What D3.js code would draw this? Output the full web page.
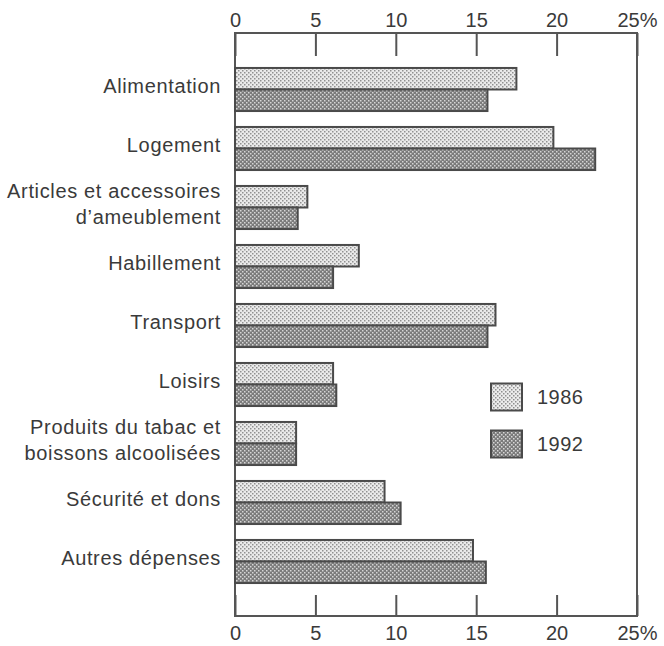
<!DOCTYPE html>
<html>
<head>
<meta charset="utf-8">
<script src="https://cdn.jsdelivr.net/npm/d3@7"></script>
<style>
  html, body { margin: 0; padding: 0; background: #ffffff; }
  svg text { font-family: "Liberation Sans", Arial, Helvetica, sans-serif; fill: #3a3a3a; }
</style>
</head>
<body>
<svg id="chart" width="664" height="646"></svg>
<script>
const categories = [
  "Alimentation",
  "Logement",
  "Articles et accessoires\nd’ameublement",
  "Habillement",
  "Transport",
  "Loisirs",
  "Produits du tabac et\nboissons alcoolisées",
  "Sécurité et dons",
  "Autres dépenses"
];
const seriesNames = ["1986", "1992"];
const values1986 = [17.5, 19.8, 4.5, 7.7, 16.2, 6.1, 3.8, 9.3, 14.8];
const values1992 = [15.7, 22.4, 3.9, 6.1, 15.7, 6.3, 3.8, 10.3, 15.6];
const tickValues = [0, 5, 10, 15, 20, 25];
const tickLabels = ["0", "5", "10", "15", "20", "25%"];

const svg = d3.select("#chart");
const frame = { left: 235, right: 637, top: 33, bottom: 616 };

const x = d3.scaleLinear().domain([0, 25]).range([frame.left, frame.right]);
const y = d3.scaleBand().domain(categories).range([60, 591]).paddingInner(0.27).paddingOuter(0.135);
const ySub = d3.scaleBand().domain(seriesNames).range([0, y.bandwidth()]);

// patterns
const defs = svg.append("defs");
function makePattern(id, bg, dot) {
  const p = defs.append("pattern").attr("id", id).attr("patternUnits", "userSpaceOnUse")
    .attr("width", 4).attr("height", 4);
  p.append("rect").attr("width", 4).attr("height", 4).attr("fill", bg);
  p.append("rect").attr("x", 0).attr("y", 0).attr("width", 1.5).attr("height", 1.5).attr("fill", dot);
  p.append("rect").attr("x", 2).attr("y", 2).attr("width", 1.5).attr("height", 1.5).attr("fill", dot);
}
makePattern("p1986", "#ebebeb", "#8e8e8e");
makePattern("p1992", "#7a7a7a", "#d8d8d8");
const fills = { "1986": "url(#p1986)", "1992": "url(#p1992)" };

// frame
svg.append("rect")
  .attr("x", frame.left).attr("y", frame.top)
  .attr("width", frame.right - frame.left).attr("height", frame.bottom - frame.top)
  .attr("fill", "none").attr("stroke", "#555").attr("stroke-width", 2);

// axes
const fmt = (d) => tickLabels[tickValues.indexOf(d)];
const topAxis = d3.axisTop(x).tickValues(tickValues).tickFormat(fmt).tickSize(-23).tickPadding(6);
const botAxis = d3.axisBottom(x).tickValues(tickValues).tickFormat(fmt).tickSize(-21).tickPadding(10);

function styleAxis(g) {
  g.select(".domain").remove();
  g.selectAll(".tick line").attr("stroke", "#555").attr("stroke-width", 2);
  g.selectAll(".tick text").attr("font-size", 20).attr("fill", "#3a3a3a")
    .attr("font-family", "'Liberation Sans', Arial, Helvetica, sans-serif");
}
svg.append("g").attr("transform", `translate(0,${frame.top})`).call(topAxis).call(styleAxis);
svg.append("g").attr("transform", `translate(0,${frame.bottom})`).call(botAxis).call(styleAxis);

// bars
const rows = categories.map((c, i) => ({ cat: c, vals: [
  { s: "1986", v: values1986[i] }, { s: "1992", v: values1992[i] }
]}));

const groups = svg.append("g").selectAll("g").data(rows).join("g")
  .attr("transform", d => `translate(0,${y(d.cat)})`);

groups.selectAll("rect").data(d => d.vals).join("rect")
  .attr("x", x(0))
  .attr("y", d => ySub(d.s))
  .attr("width", d => x(d.v) - x(0))
  .attr("height", ySub.bandwidth())
  .attr("fill", d => fills[d.s])
  .attr("stroke", "#4a4a4a")
  .attr("stroke-width", 2);

// category labels
const labels = svg.append("g").selectAll("text").data(categories).join("text")
  .attr("text-anchor", "end")
  .attr("font-size", 20)
  .attr("letter-spacing", 0.65)
  .attr("x", 221);
labels.each(function(c) {
  const lines = c.split("\n");
  const cy = y(c) + y.bandwidth() / 2;
  const t = d3.select(this);
  if (lines.length === 1) {
    t.append("tspan").attr("x", 221).attr("y", cy - 4).attr("dy", "0.35em").text(lines[0]);
  } else {
    t.append("tspan").attr("x", 221).attr("y", cy - 17).attr("dy", "0.35em").text(lines[0]);
    t.append("tspan").attr("x", 221).attr("y", cy + 9).attr("dy", "0.35em").text(lines[1]);
  }
});

// legend
const legendY = d3.scalePoint().domain(seriesNames).range([397, 444]);
const leg = svg.append("g").selectAll("g").data(seriesNames).join("g")
  .attr("transform", d => `translate(491,${legendY(d)})`);
leg.append("rect").attr("x", 0).attr("y", -13.5).attr("width", 31).attr("height", 27)
  .attr("fill", d => fills[d]).attr("stroke", "#4a4a4a").attr("stroke-width", 2);
leg.append("text").attr("x", 46).attr("y", 0).attr("dy", "0.35em")
  .attr("font-size", 20).attr("letter-spacing", 0.5).text(d => d);
</script>
</body>
</html>
